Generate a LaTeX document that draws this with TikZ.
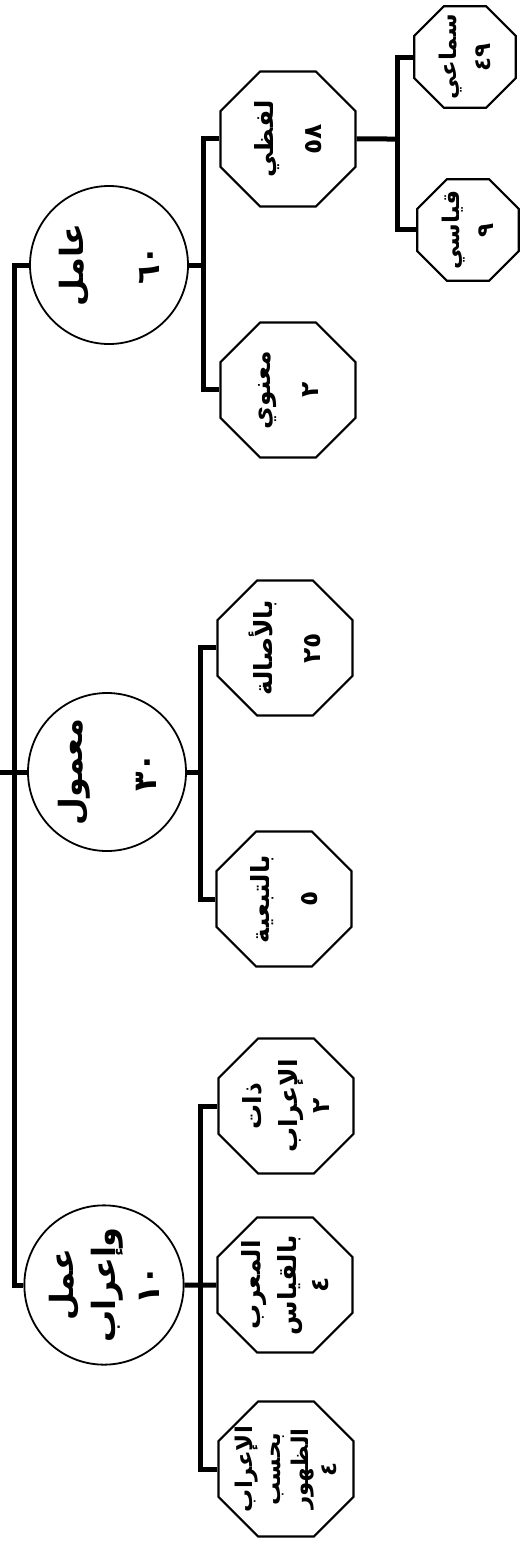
\documentclass[tikz,border=0pt]{standalone}
\usepackage{fontspec}
\usepackage{graphicx}
\newfontfamily\arabicfont[Script=Arabic]{DejaVu Sans}
\TeXXeTstate=1
\usetikzlibrary{shapes.geometric}

\newcommand{\rtl}[1]{\beginR #1\endR}

\tikzset{
  conn/.style={line width=2.5pt},
  bigcirc/.style={circle, draw, line width=0.9pt, minimum size=79pt, inner sep=0pt,
    rotate=90, align=center, font=\arabicfont\bfseries\fontsize{16}{18}\selectfont},
  octbox/.style={regular polygon, regular polygon sides=8, draw, line width=1.1pt,
    minimum size=73pt, inner sep=-6pt, rotate=90, align=center,
    font=\arabicfont\bfseries\fontsize{12.5}{15}\selectfont},
  smalloct/.style={octbox, minimum size=55pt, inner sep=-8pt,
    font=\arabicfont\bfseries\fontsize{11.5}{14}\selectfont}
}

\begin{document}
\begin{tikzpicture}[x={(0.5pt,0)}, y={(0,-0.5pt)}]
\useasboundingbox (0,0) rectangle (530,1547);

% First level
\node[bigcirc] (amil) at (109,265) {\rtl{عامل}\\[20pt]٦٠};
\node[bigcirc] (mamul) at (107,772) {\rtl{معمول}\\[19pt]٣٠};
\node[bigcirc] (irab) at (104,1285) {\rtl{عمل}\\[3pt]\rtl{وإعراب}\\[4pt]١٠};

% Trunk
\coordinate (trunk) at (14,772);
\coordinate (stub) at (0,772);
\draw[conn] (amil) -| (trunk) |- (irab);
\draw[conn] (stub) -- (mamul);

% Branch of amil
\node[octbox] (lafzi) at (288,139) {\rtl{لفظي}\\[9pt]٥٨};
\node[octbox] (manawi) at (288,390) {\rtl{معنوي}\\[9pt]٢};
\coordinate (barA) at (203,265);
\draw[conn] (amil) -- (barA);
\draw[conn] (lafzi) -| (barA) |- (manawi);

\node[smalloct] (samai) at (465,57) {\rtl{سماعي}\\[3pt]٤٩};
\node[smalloct] (qiyasi) at (468,230) {\rtl{قياسي}\\[3pt]٩};
\coordinate (barL) at (397,139);
\draw[conn] (lafzi) -- (barL);
\draw[conn] (samai) -| (barL) |- (qiyasi);

% Branch of mamul
\node[octbox] (asala) at (285,648) {\rtl{بالأصالة}\\[9pt]٢٥};
\node[octbox] (tabia) at (284,899) {\rtl{بالتبعية}\\[9pt]٥};
\coordinate (barM) at (200,772);
\draw[conn] (mamul) -- (barM);
\draw[conn] (asala) -| (barM) |- (tabia);

% Branch of irab
\node[octbox] (dhat) at (286,1106) {\rtl{ذات}\\[3pt]\rtl{الإعراب}\\[1pt]٢};
\node[octbox] (muarrab) at (285,1285) {\rtl{المعرب}\\[3pt]\rtl{بالقياس}\\[1pt]٤};
\node[octbox, font=\arabicfont\bfseries\fontsize{11.5}{13}\selectfont] (zuhur) at (286,1469)
  {\rtl{الإعراب}\\[1pt]\rtl{بحسب}\\[1pt]\rtl{الظهور}\\[1pt]٤};
\coordinate (barI) at (200,1285);
\draw[conn] (irab) -- (muarrab);
\draw[conn] (dhat) -| (barI) |- (zuhur);
\end{tikzpicture}
\end{document}
